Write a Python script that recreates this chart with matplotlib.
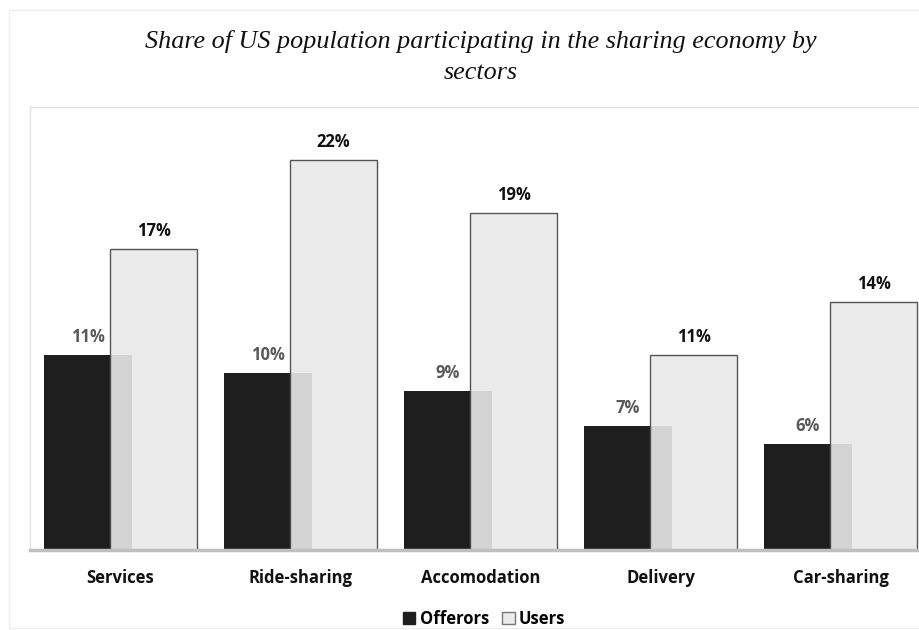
import matplotlib.pyplot as plt
import numpy as np
from matplotlib.patches import Rectangle, Patch

# sector shares (%)
sectors = ['Services', 'Ride-sharing', 'Accomodation', 'Delivery', 'Car-sharing']
offerors = [11, 10, 9, 7, 6]
users = [17, 22, 19, 11, 14]

LABEL_FONT = 'Open Sans'

fig = plt.figure(figsize=(9.2, 6.3), dpi=100)

# faint page border
fig.patches.append(Rectangle((9/920, 2/630), 1.0, 618/630, transform=fig.transFigure,
                             fill=False, edgecolor='#ededed', linewidth=1))

ax = fig.add_axes([30/920, 80/630, 900/920, 443/630])

x = np.arange(len(sectors))
w_off = 0.489
w_usr = 0.483
off_c = x - 0.181
usr_c = x + 0.183

ax.bar(off_c, offerors, w_off, color='#1e1e1e', zorder=2)
ax.bar(usr_c, users, w_usr, color='#ebebeb', edgecolor='#555555', linewidth=1, zorder=3)
# translucent overlay where the offerors bar sits behind the users bar
ax.bar(off_c, offerors, w_off, color='#1e1e1e', alpha=0.11, linewidth=0, zorder=4)

for xc, v in zip(off_c, offerors):
    ax.text(xc, v + 0.5, f'{v}%', ha='center', va='bottom', fontsize=12,
            fontweight='bold', color='#595959', family=LABEL_FONT, zorder=5)
for xc, v in zip(usr_c, users):
    ax.text(xc, v + 0.5, f'{v}%', ha='center', va='bottom', fontsize=12,
            fontweight='bold', color='#111111', family=LABEL_FONT, zorder=5)

ax.set_xlim(-0.503, 4.497)
ax.set_ylim(0, 25)
ax.set_yticks([])
ax.set_xticks(x)
ax.set_xticklabels(sectors, fontsize=12, fontweight='bold', family=LABEL_FONT, color='#111111')
ax.tick_params(axis='x', length=0, pad=14)

for s in ['left', 'top', 'right']:
    ax.spines[s].set_color('#e2e2e2')
    ax.spines[s].set_linewidth(1)
ax.spines['bottom'].set_color('#bfbfbf')
ax.spines['bottom'].set_linewidth(2.5)
ax.spines['bottom'].set_zorder(6)

fig.text(481/920, 1 - 57/630,
         'Share of US population participating in the sharing economy by\nsectors',
         ha='center', va='center', fontsize=18.8, fontstyle='italic', family='Liberation Serif',
         color='#111111', linespacing=1.5)

# legend
handles = [Patch(facecolor='#1e1e1e', edgecolor='#1e1e1e', label='Offerors'),
           Patch(facecolor='#ebebeb', edgecolor='#777777', label='Users')]
fig.legend(handles=handles, loc='center', bbox_to_anchor=(484/920, 1 - 619/630), ncol=2,
           frameon=False, handlelength=0.75, handleheight=0.75, handletextpad=0.25,
           columnspacing=0.8, prop={'family': LABEL_FONT, 'weight': 'bold', 'size': 12})

fig.savefig('out.png', dpi=100)
